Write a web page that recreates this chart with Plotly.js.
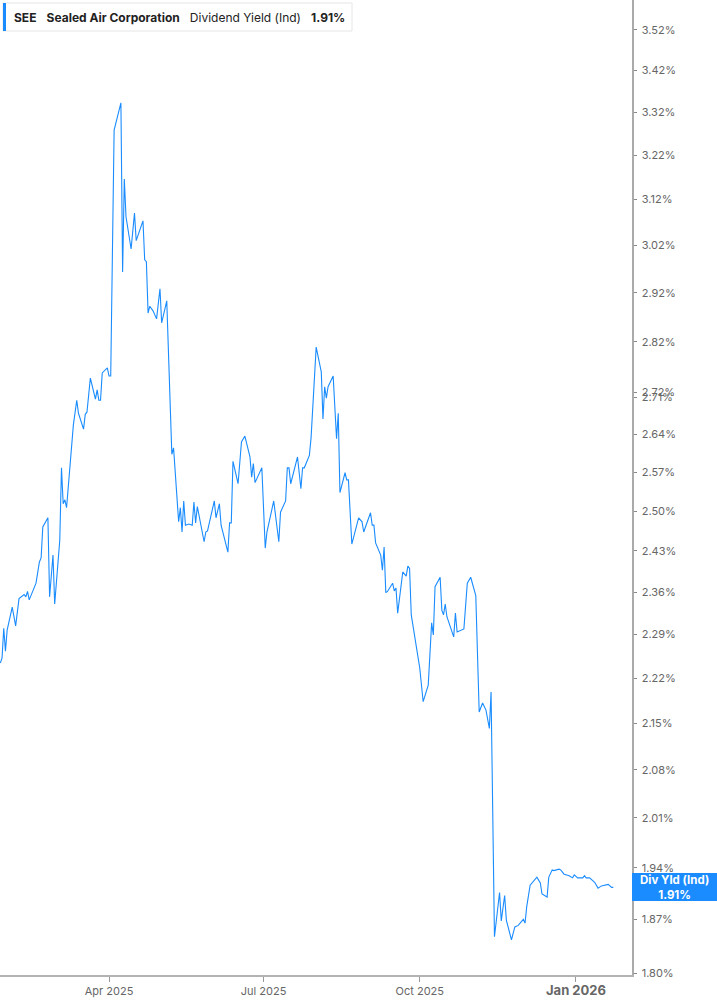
<!DOCTYPE html>
<html>
<head>
<meta charset="utf-8">
<script src="https://cdn.plot.ly/plotly-3.0.1.min.js"></script>
<style>
html,body{margin:0;padding:0;background:#fff;}
#chart{width:717px;height:1005px;}
</style>
</head>
<body>
<div id="chart"></div>
<script>
var dates = [
"2025-01-27","2025-01-28","2025-01-29","2025-01-30","2025-01-31","2025-02-03","2025-02-05","2025-02-07","2025-02-10","2025-02-11",
"2025-02-12","2025-02-13","2025-02-17","2025-02-19","2025-02-20","2025-02-21","2025-02-24","2025-02-25","2025-02-27","2025-02-28",
"2025-03-03","2025-03-04","2025-03-05","2025-03-06","2025-03-07","2025-03-10","2025-03-11","2025-03-13","2025-03-14","2025-03-17",
"2025-03-18","2025-03-19","2025-03-21","2025-03-24","2025-03-25","2025-03-26","2025-03-27","2025-03-28","2025-03-31","2025-04-01",
"2025-04-02","2025-04-04","2025-04-06","2025-04-08","2025-04-09","2025-04-10","2025-04-11","2025-04-14","2025-04-16","2025-04-17",
"2025-04-21","2025-04-22","2025-04-23","2025-04-24","2025-04-25","2025-04-27","2025-04-29","2025-05-01","2025-05-02","2025-05-05",
"2025-05-08","2025-05-09","2025-05-12","2025-05-13","2025-05-14","2025-05-15","2025-05-16","2025-05-18","2025-05-20","2025-05-21",
"2025-05-22","2025-05-23","2025-05-27","2025-05-28","2025-05-29","2025-06-02","2025-06-03","2025-06-05","2025-06-06","2025-06-10",
"2025-06-11","2025-06-12","2025-06-13","2025-06-16","2025-06-18","2025-06-20","2025-06-23","2025-06-24","2025-06-25","2025-06-26",
"2025-06-30","2025-07-02","2025-07-03","2025-07-07","2025-07-10","2025-07-11","2025-07-14","2025-07-15","2025-07-16","2025-07-17",
"2025-07-21","2025-07-23","2025-07-24","2025-07-25","2025-07-28","2025-07-29","2025-08-01","2025-08-04","2025-08-05","2025-08-06",
"2025-08-07","2025-08-08","2025-08-11","2025-08-13","2025-08-14","2025-08-15","2025-08-18","2025-08-19","2025-08-20","2025-08-22",
"2025-08-26","2025-08-28","2025-08-29","2025-09-02","2025-09-03","2025-09-04","2025-09-05","2025-09-08","2025-09-09","2025-09-10",
"2025-09-11","2025-09-12","2025-09-15","2025-09-16","2025-09-17","2025-09-18","2025-09-21","2025-09-23","2025-09-24","2025-09-25",
"2025-09-26","2025-09-30","2025-10-01","2025-10-03","2025-10-06","2025-10-08","2025-10-09","2025-10-10","2025-10-13","2025-10-14",
"2025-10-15","2025-10-16","2025-10-17","2025-10-21","2025-10-22","2025-10-23","2025-10-27","2025-10-29","2025-10-31","2025-11-03",
"2025-11-04","2025-11-05","2025-11-07","2025-11-09","2025-11-11","2025-11-12","2025-11-14","2025-11-17","2025-11-18","2025-11-20",
"2025-11-21","2025-11-24","2025-11-26","2025-11-28","2025-12-01","2025-12-02","2025-12-03","2025-12-05","2025-12-09","2025-12-11",
"2025-12-12","2025-12-15","2025-12-16","2025-12-18","2025-12-19","2025-12-22","2025-12-23","2025-12-25","2025-12-28","2025-12-30",
"2025-12-31","2026-01-02","2026-01-05","2026-01-06","2026-01-07","2026-01-09","2026-01-12","2026-01-14","2026-01-16","2026-01-20",
"2026-01-22","2026-01-23"
];
var yields = [
2.244,2.252,2.300,2.263,2.297,2.335,2.304,2.349,2.356,2.352,
2.361,2.347,2.375,2.411,2.418,2.472,2.488,2.352,2.423,2.340,
2.449,2.578,2.513,2.520,2.506,2.630,2.658,2.705,2.680,2.650,
2.678,2.682,2.748,2.707,2.725,2.705,2.705,2.758,2.768,2.752,
2.752,3.278,3.311,3.342,2.963,3.166,3.082,3.012,3.090,3.030,
3.073,2.989,2.985,2.878,2.892,2.882,2.866,2.928,2.858,2.903,
2.603,2.615,2.481,2.506,2.463,2.518,2.475,2.477,2.475,2.516,
2.479,2.508,2.446,2.463,2.465,2.518,2.488,2.513,2.475,2.428,
2.479,2.479,2.590,2.549,2.626,2.637,2.598,2.561,2.586,2.551,
2.578,2.435,2.463,2.518,2.446,2.498,2.518,2.578,2.578,2.549,
2.598,2.540,2.578,2.578,2.601,2.634,2.809,2.760,2.669,2.731,
2.709,2.731,2.752,2.632,2.680,2.533,2.569,2.556,2.556,2.442,
2.488,2.481,2.463,2.497,2.475,2.475,2.444,2.423,2.397,2.437,
2.359,2.361,2.375,2.362,2.367,2.325,2.394,2.387,2.404,2.400,
2.322,2.257,2.236,2.183,2.209,2.309,2.289,2.369,2.385,2.330,
2.322,2.340,2.319,2.286,2.325,2.294,2.299,2.375,2.385,2.354,
2.238,2.167,2.181,2.170,2.142,2.198,1.847,1.906,1.868,1.902,
1.869,1.843,1.860,1.862,1.870,1.865,1.887,1.916,1.927,1.919,
1.904,1.900,1.927,1.937,1.936,1.938,1.937,1.931,1.929,1.926,
1.930,1.926,1.926,1.929,1.926,1.926,1.920,1.912,1.915,1.917,
1.913,1.913
];
var yTickVals = [1.80,1.87,1.94,2.01,2.08,2.15,2.22,2.29,2.36,2.43,2.50,2.57,2.64,2.71,2.72,2.82,2.92,3.02,3.12,3.22,3.32,3.42,3.52];
var yTickText = ["1.80%","1.87%","1.94%","2.01%","2.08%","2.15%","2.22%","2.29%","2.36%","2.43%","2.50%","2.57%","2.64%","2.71%","2.72%","2.82%","2.92%","3.02%","3.12%","3.22%","3.32%","3.42%","3.52%"];
var xTickVals = ["2025-04-01","2025-07-01","2025-10-01","2026-01-01"];
var xTickText = ["Apr 2025","Jul 2025","Oct 2025","<b><span style=\"font-size:13px\">Jan 2026</span></b>"];
var ticker = "SEE";
var company = "Sealed Air Corporation";
var metric = "Dividend Yield (Ind)";
var lastLabel = "Div Yld (Ind)";
var lastValue = "1.91%";

var W = 717, H = 1005, mL = 0, mR = 85, mT = 0, mB = 30;
var pw = W - mL - mR, ph = H - mT - mB;
function px(x){ return (x - mL) / pw; }
function py(y){ return 1 - (y - mT) / ph; }

var trace = {
  x: dates, y: yields, type: 'scatter', mode: 'lines',
  line: {color: '#1a8cff', width: 1.1},
  hoverinfo: 'skip'
};

var layout = {
  width: W, height: H,
  margin: {l: mL, r: mR, t: mT, b: mB, pad: 0},
  paper_bgcolor: '#ffffff', plot_bgcolor: '#ffffff',
  showlegend: false,
  font: {family: 'Inter, "Open Sans", sans-serif', color: '#666'},
  xaxis: {
    type: 'date',
    range: ['2025-01-26 19:00', '2026-02-03 00:00'],
    tickmode: 'array', tickvals: xTickVals, ticktext: xTickText,
    ticks: 'outside', ticklen: 5, tickwidth: 1, tickcolor: '#999',
    showline: true, linecolor: '#b3b3b3', linewidth: 2,
    showgrid: false, zeroline: false,
    tickfont: {family: 'Inter, sans-serif', size: 11, color: '#666'}
  },
  yaxis: {
    type: 'log', side: 'right',
    range: [0.254655, 0.555763],
    tickmode: 'array', tickvals: yTickVals, ticktext: yTickText,
    ticks: 'outside', ticklen: 3, tickwidth: 1, tickcolor: '#888',
    ticklabelstandoff: 3,
    showline: true, linecolor: '#aaaaaa', linewidth: 1.5,
    showgrid: false, zeroline: false,
    tickfont: {family: 'Inter, sans-serif', size: 11, color: '#666'}
  },
  shapes: [
    {type: 'rect', xref: 'paper', yref: 'paper', x0: px(3), x1: px(352), y0: py(31), y1: py(3),
     line: {color: '#e6e6e6', width: 1}, fillcolor: '#ffffff', layer: 'above'},
    {type: 'rect', xref: 'paper', yref: 'paper', x0: px(3), x1: px(6), y0: py(31), y1: py(3),
     line: {width: 0}, fillcolor: '#1a8cff', layer: 'above'},
    {type: 'rect', xref: 'paper', yref: 'paper', x0: px(632), x1: px(717), y0: py(901), y1: py(873),
     line: {width: 0}, fillcolor: '#1a8cff', layer: 'above'}
  ],
  annotations: [
    {xref: 'paper', yref: 'paper', x: px(12), y: py(17), xanchor: 'left', yanchor: 'middle', showarrow: false,
     text: '<b>' + ticker + '</b>&nbsp;&nbsp;&nbsp;<b>' + company + '</b>&nbsp;&nbsp;&nbsp;' + metric + '&nbsp;&nbsp;&nbsp;<b>' + lastValue + '</b>',
     font: {family: 'Inter, sans-serif', size: 12, color: '#222'}},
    {xref: 'paper', yref: 'paper', x: px(674.5), y: py(887), xanchor: 'center', yanchor: 'middle', showarrow: false,
     text: '<b>' + lastLabel + '</b><br><b>' + lastValue + '</b>',
     font: {family: 'Inter, sans-serif', size: 11.5, color: '#ffffff'}}
  ]
};

Plotly.newPlot('chart', [trace], layout, {staticPlot: true, displayModeBar: false});
</script>
</body>
</html>
